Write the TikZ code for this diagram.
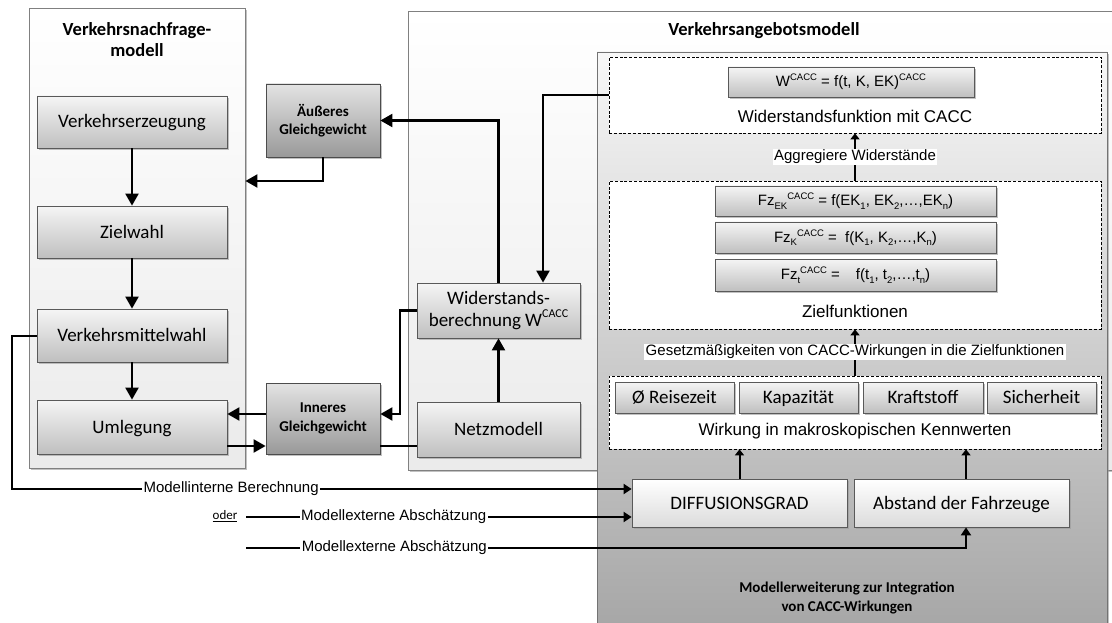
\documentclass[tikz,border=0pt]{standalone}
\usepackage{fontspec}
\setmainfont{Carlito}
\newfontfamily\arialfont{Liberation Sans}
\usetikzlibrary{arrows.meta,shadows}

% font sizes (1pt = 1 unit of the drawing)
\newcommand\boxfont{\fontsize{19}{22}\selectfont}
\newcommand\titlefont{\bfseries\fontsize{18.5}{21}\selectfont}
\newcommand\smallbold{\bfseries\fontsize{15}{18.5}\selectfont}
\newcommand\formfont{\arialfont\fontsize{15}{18}\selectfont}
\newcommand\labfont{\arialfont\fontsize{17}{20}\selectfont}
% raised and lowered indices
\newcommand\hi[1]{\raisebox{0.42em}{\fontsize{9.5}{10}\selectfont #1}}
\newcommand\lo[1]{\raisebox{-0.22em}{\fontsize{9.5}{10}\selectfont #1}}
\newcommand\bhi[1]{\raisebox{0.45em}{\fontsize{12}{12}\selectfont #1}}

\tikzset{
  sz/.style 2 args={minimum width=#1pt, minimum height=#2pt},
  oneline/.style={text height=16pt, text depth=4pt},
  shad/.style={drop shadow={shadow xshift=1.6pt, shadow yshift=-1.6pt, fill=black!40, opacity=0.6}},
  container/.style={draw=black!50, line width=0.9pt, top color=white, bottom color=black!8, shad},
  gbox/.style={draw=black!65, line width=0.8pt, top color=black!4, bottom color=black!25, shad,
               inner sep=1pt, font=\boxfont, align=center},
  dbox/.style={draw=black!70, line width=0.8pt, top color=black!11, bottom color=black!40, shad,
               font=\smallbold, align=center},
  fbox/.style={gbox, font=\formfont},
  lbox/.style={draw=black!65, line width=0.8pt, top color=white, bottom color=black!14, shad,
               font=\boxfont, oneline},
  mebox/.style={draw=black!55, line width=0.9pt, top color=black!3, bottom color=black!36, shad},
  dashbox/.style={draw=black, line width=0.7pt, dash pattern=on 3pt off 1.8pt, fill=white},
  lab/.style={font=\labfont, inner sep=1pt},
  labs/.style={font=\formfont, inner sep=1.5pt, fill=white},
  arr/.style={line width=2.2pt, -{Triangle[length=12pt,width=13pt]}},
  arrm/.style={line width=2pt, -{Triangle[length=8pt,width=10pt]}},
  arrs/.style={line width=2pt, -{Triangle[length=6pt,width=9pt]}},
  conn/.style={line width=2.2pt},
}

\begin{document}
\begin{tikzpicture}[x=1pt,y=-1pt]
\useasboundingbox (0,0) rectangle (1112,623);
\clip (0,0) rectangle (1112,623);
\fill[white] (0,0) rectangle (1112,623);

% --- containers
\node[container, sz={216}{460}] (lc) at (137,238) {};
\node[font=\titlefont, align=center] (lct) at (137,40) {Verkehrsnachfrage-\\modell};
\node[container, sz={717}{459}] (rc) at (766.5,240.5) {};
\node[font=\titlefont] (rct) at (764,31) {Verkehrsangebotsmodell};

% --- demand model steps
\node[gbox, oneline, sz={190}{52}] (ve)  at (132,122)   {Verkehrserzeugung};
\node[gbox, oneline, sz={190}{52}] (zw)  at (132,232)   {Zielwahl};
\node[gbox, oneline, sz={190}{53}] (vmw) at (132,335.5) {Verkehrsmittelwahl};
\node[gbox, oneline, sz={190}{54}] (um)  at (132,427)   {Umlegung};

% --- equilibria
\node[dbox, sz={114}{73}] (ag) at (323,120.5) {Äußeres\\Gleichgewicht};
\node[dbox, sz={114}{71}] (ig) at (323,418.5) {Inneres\\Gleichgewicht};

% --- supply model
\node[gbox, sz={163}{55}] (wb) at (498.5,310.5) {Widerstands-\\berechnung W\bhi{CACC}};
\node[gbox, oneline, sz={163}{55}] (nm) at (498.5,429.5) {Netzmodell};

% --- model extension
\node[mebox, sz={510}{600}] (me) at (852,352) {};

\node[dashbox, sz={492}{76}] (d1) at (855,95) {};
\node[fbox, sz={246}{30}] (wf) at (851,82) {W\hi{CACC} = f(t, K, EK)\hi{CACC}};
\node[lab] (wfl) at (855,116) {Widerstandsfunktion mit CACC};

\node[dashbox, sz={492}{148}] (d2) at (855,255) {};
\node[fbox, sz={281}{30}] (fz1) at (855.5,201)   {Fz\lo{EK}\hi{CACC} = f(EK\lo{1}, EK\lo{2},…,EK\lo{n})};
\node[fbox, sz={281}{31}] (fz2) at (855.5,237.5) {Fz\lo{K}\hi{CACC} =\ \ f(K\lo{1}, K\lo{2},…,K\lo{n})};
\node[fbox, sz={281}{32}] (fz3) at (855.5,275)   {Fz\lo{t}\hi{CACC} =\hspace{16pt}f(t\lo{1}, t\lo{2},…,t\lo{n})};
\node[lab] (zl) at (855,311) {Zielfunktionen};

\node[dashbox, sz={492}{73}] (d3) at (855,412.5) {};
\node[gbox, oneline, sz={119}{31}] (b1) at (674.5,397.5) {Ø Reisezeit};
\node[gbox, oneline, sz={119}{31}] (b2) at (798.5,397.5) {Kapazität};
\node[gbox, oneline, sz={120}{31}] (b3) at (923,397.5)   {Kraftstoff};
\node[gbox, oneline, sz={109}{31}] (b4) at (1041.5,397.5){Sicherheit};
\node[lab] (wl) at (855,431) {Wirkung in makroskopischen Kennwerten};

\node[lbox, sz={215}{48}] (dg) at (739.5,503) {DIFFUSIONSGRAD};
\node[lbox, sz={215}{48}] (ab) at (961.5,503) {Abstand der Fahrzeuge};

\node[font=\smallbold, align=center] (met) at (847,598)
  {Modellerweiterung zur Integration\\von CACC-Wirkungen};

% --- connectors inside the extension
\draw[arrs] (d2.north) -- (d1.south);
\node[labs] (aggl) at (855,157) {Aggregiere Widerstände};
\draw[arrs] (d3.north) -- (d2.south);
\node[labs] (gesl) at (855,352) {Gesetzmäßigkeiten von CACC-Wirkungen in die Zielfunktionen};
\draw[arrs] (dg.north) -- (dg.north |- d3.south);
\draw[arrs] ([xshift=4.5pt]ab.north) -- ([xshift=4.5pt]ab.north |- d3.south);

% --- demand chain
\draw[arr] (ve.south) -- (zw.north);
\draw[arr] (zw.south) -- (vmw.north);
\draw[arr] (vmw.south) -- (um.north);

% --- equilibrium loops
\draw[arr] (ag.south) |- ([yshift=57pt]lc.east);
\draw[arr] (wb.north) |- (ag.east);
\draw[arr] (d1.west) -| ([xshift=44.5pt]wb.north);
\draw[arr] (nm.north) -- (wb.south);
\draw[arr] (wb.west) -- ++(-17,0) |- ([yshift=4.5pt]ig.east);
\draw[arr] ([yshift=4.5pt]ig.west) -- ([yshift=13pt]um.east);
\draw[arr] ([yshift=-19pt]um.east) -- ([yshift=-27.5pt]ig.west);
\draw[conn] ([yshift=-27.5pt]ig.east) -- ([yshift=-16.5pt]nm.west);

% --- inputs of the extension
\coordinate (o1) at (246,517);
\coordinate (o2) at (246,548);
\draw[arrm] (vmw.west) -- ++(-25,0) |- ([yshift=14pt]dg.west)
  node[labs, font=\formfont, pos=0.677] {Modellinterne Berechnung};
\node[font=\fontsize{13}{15}\selectfont] (oder) at (225,516) {\underline{oder}};
\draw[arrm] (o1) -- ([yshift=-14pt]dg.west)
  node[labs, pos=0.383] {Modellexterne Abschätzung};
\draw[arrm] (o2) -| ([xshift=4.5pt]ab.south)
  node[labs, pos=0.103] {Modellexterne Abschätzung};
\end{tikzpicture}
\end{document}
